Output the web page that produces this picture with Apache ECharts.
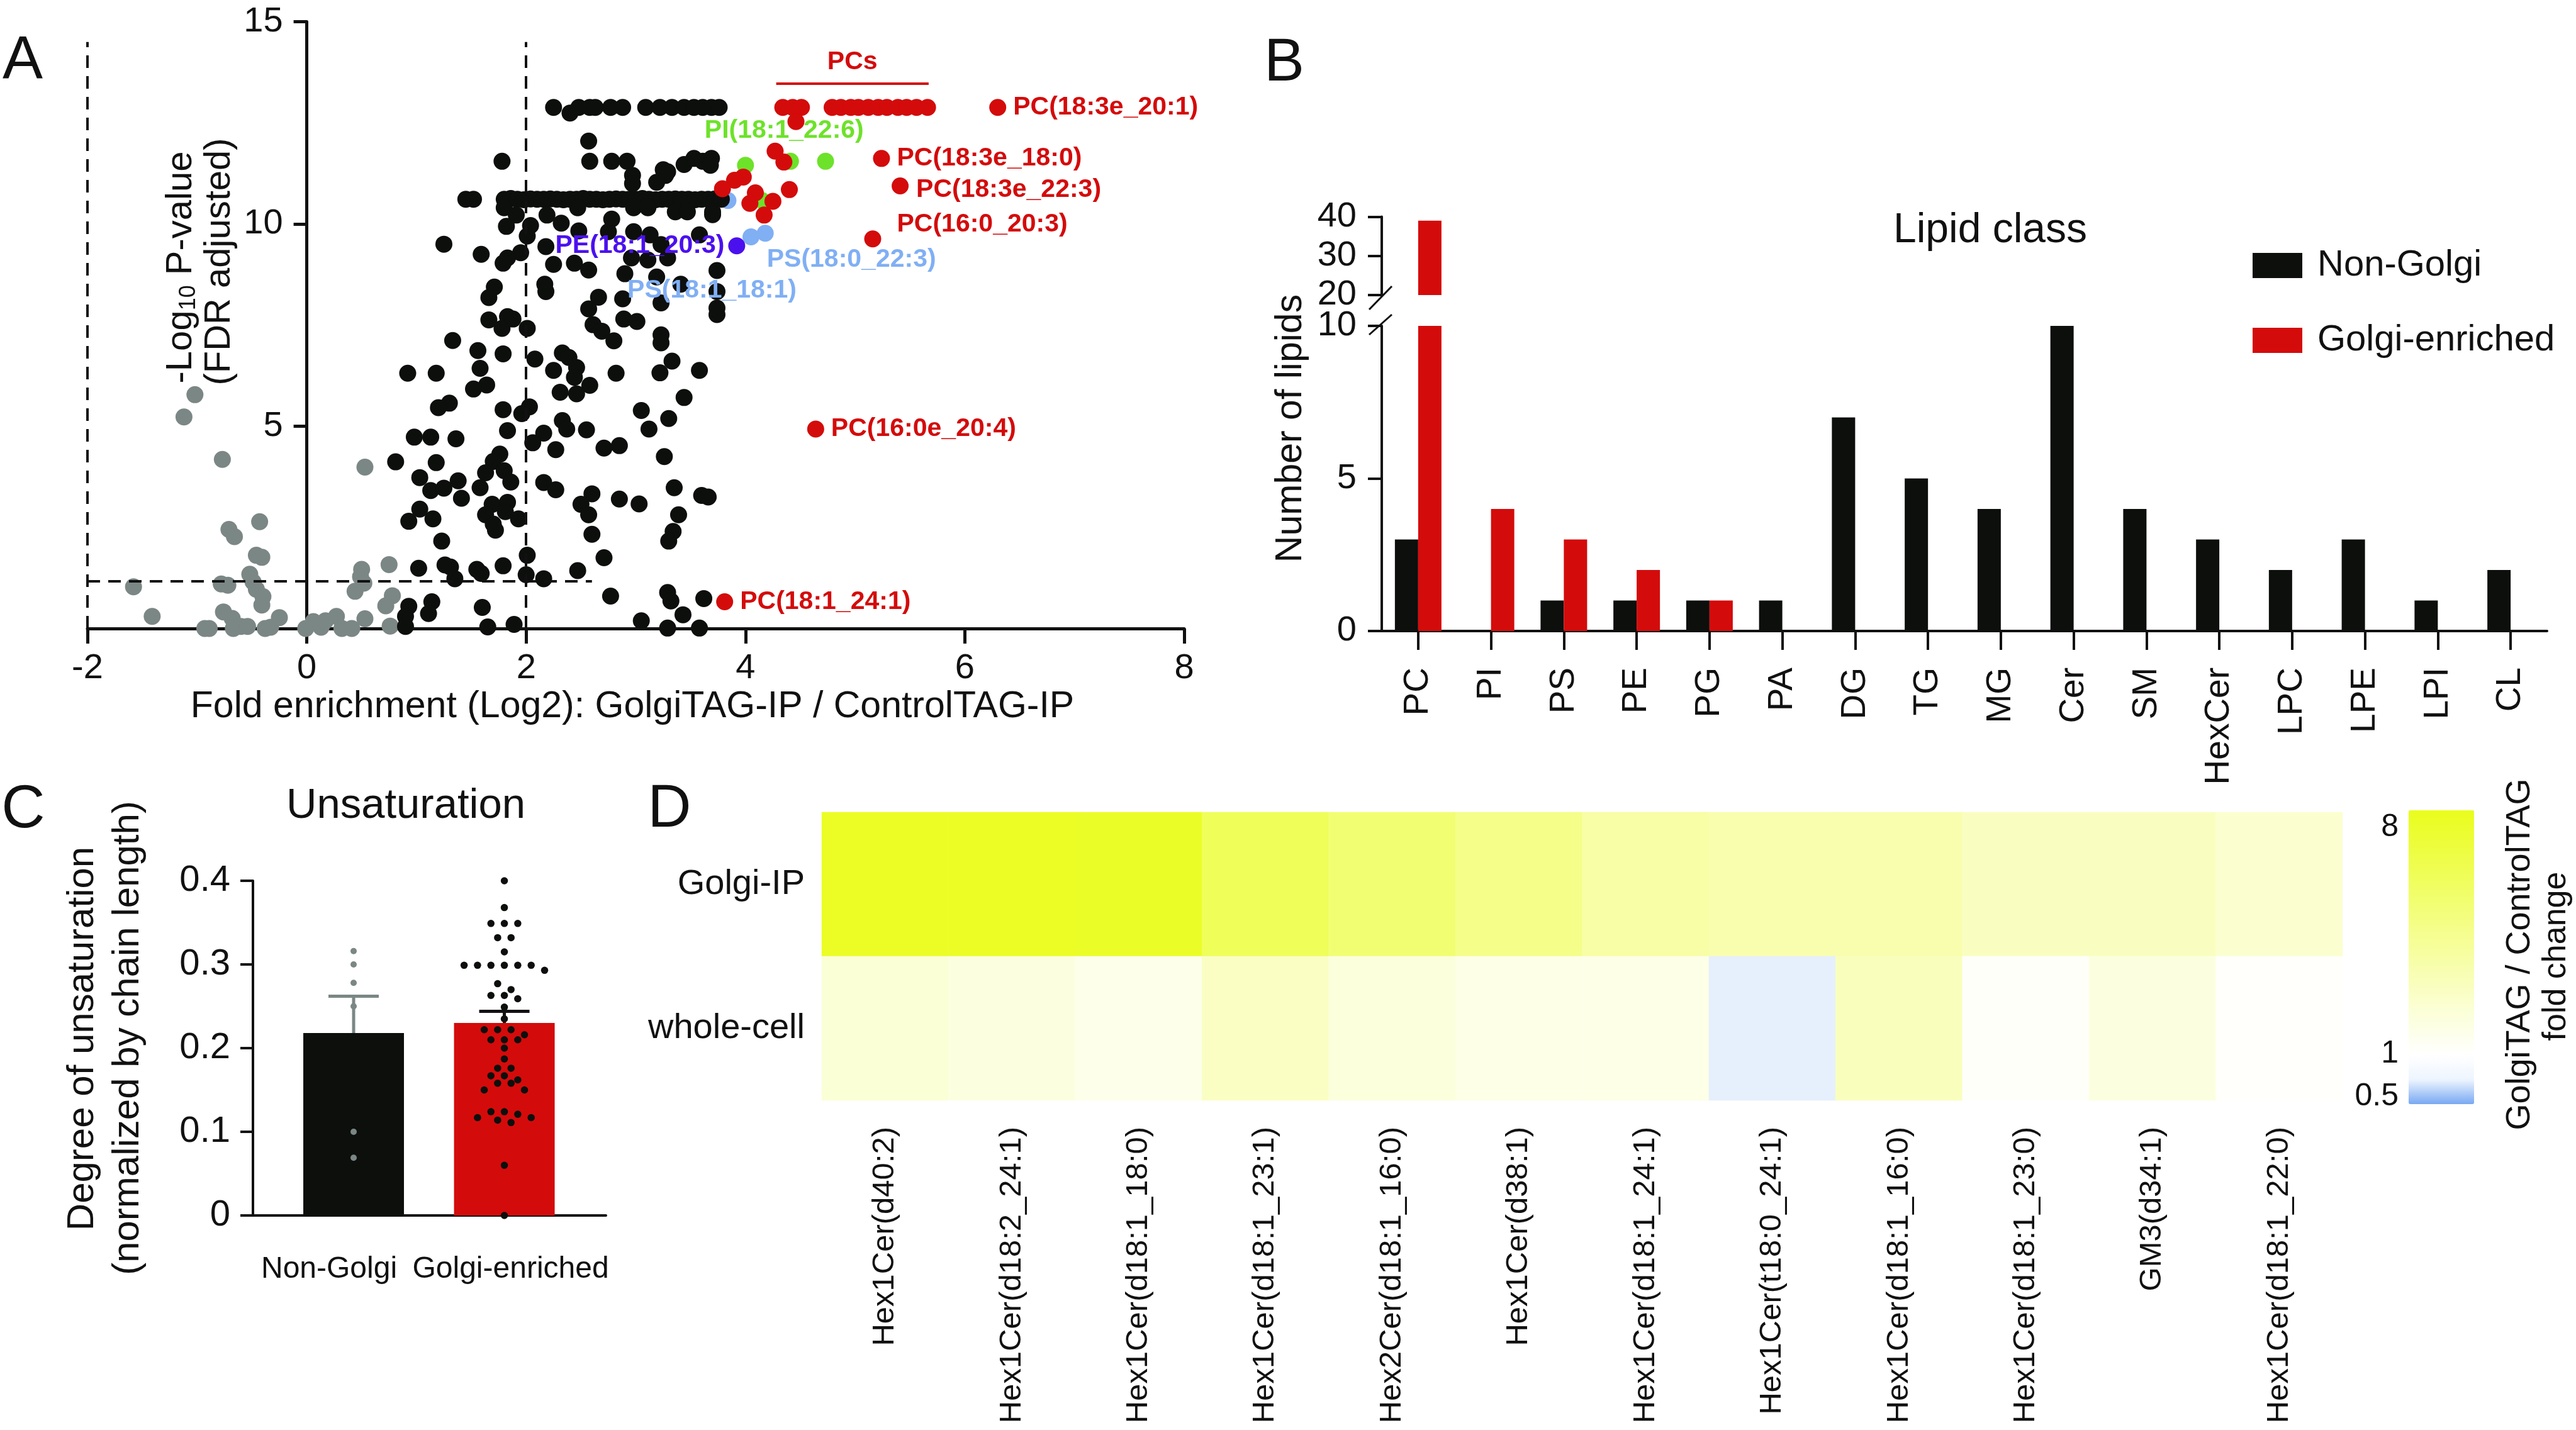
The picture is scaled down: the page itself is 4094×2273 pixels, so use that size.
<!DOCTYPE html>
<html>
<head>
<meta charset="utf-8">
<script src="https://cdn.jsdelivr.net/npm/echarts@6.0.0/dist/echarts.min.js"></script>
<style>
html, body { margin: 0; padding: 0; background: #fff; }
#fig { width: 4094px; height: 2273px; }
</style>
</head>
<body>
<div id="fig"></div>
<script>
// ---------- A: volcano plot (log2 fold, -log10 FDR) ----------
const volcanoNotSig = [
    [-1.02, 5.78], [-1.12, 5.23], [-0.77, 4.18], [0.53, 3.99], [-0.43, 2.64], [-0.71, 2.45], [-0.66, 2.27],
    [-0.46, 1.81], [-0.41, 1.76], [-0.52, 1.34], [-0.49, 1.15], [-0.46, 0.97], [-0.40, 0.79], [-0.41, 0.58],
    [-0.78, 1.10], [-0.72, 1.07], [-1.58, 1.03], [-1.41, 0.30], [-0.76, 0.41], [-0.68, 0.25], [-0.93, 0.00],
    [-0.89, 0.00], [-0.67, 0.00], [-0.60, 0.05], [-0.54, 0.05], [-0.38, 0.00], [-0.33, 0.03], [-0.25, 0.27],
    [-0.01, 0.00], [0.06, 0.17], [0.13, 0.03], [0.17, 0.19], [0.27, 0.30], [0.32, 0.00], [0.41, 0.00],
    [0.53, 0.24], [0.50, 1.46], [0.49, 1.28], [0.52, 1.12], [0.44, 0.92], [0.75, 1.58], [0.78, 0.81],
    [0.72, 0.56], [0.76, 0.06]
];
const volcanoOther = [
    [2.25, 12.88], [2.40, 12.74], [2.48, 12.88], [2.58, 12.88], [2.63, 12.88], [2.77, 12.88], [2.88, 12.88],
    [3.09, 12.88], [3.22, 12.88], [3.33, 12.88], [3.44, 12.88], [3.53, 12.88], [3.61, 12.88], [3.69, 12.88],
    [3.76, 12.88], [2.57, 12.05],
    [1.78, 11.55], [2.58, 11.55], [2.78, 11.55], [2.92, 11.55], [3.44, 11.47], [3.53, 11.62], [3.61, 11.55],
    [3.69, 11.62], [3.68, 11.45], [2.97, 11.20], [3.27, 11.20], [2.97, 11.00], [3.25, 11.34], [3.19, 11.03],
    [3.29, 11.29],
    [1.45, 10.61], [1.52, 10.61], [1.80, 10.61], [1.86, 10.63], [1.92, 10.61], [1.98, 10.60], [2.04, 10.62],
    [2.10, 10.61], [2.16, 10.61], [2.22, 10.62], [2.28, 10.61], [2.34, 10.60], [2.40, 10.61], [2.46, 10.61],
    [2.52, 10.63], [2.58, 10.61], [2.64, 10.61], [2.70, 10.60], [2.76, 10.61], [2.82, 10.62], [2.88, 10.61],
    [2.94, 10.61], [3.00, 10.61], [3.06, 10.63], [3.12, 10.61], [3.18, 10.60], [3.24, 10.61], [3.30, 10.61],
    [3.36, 10.62], [3.42, 10.61], [3.48, 10.61], [3.54, 10.60], [3.60, 10.61], [3.66, 10.61], [3.72, 10.62],
    [3.78, 10.61],
    [1.80, 10.40], [2.47, 10.40], [2.98, 10.40], [3.11, 10.40], [3.36, 10.30], [3.47, 10.30], [3.70, 10.30],
    [1.91, 10.22], [2.19, 10.22], [1.82, 9.94], [2.04, 9.96], [2.32, 10.02], [2.48, 9.83], [2.78, 10.12],
    [2.75, 9.81], [2.98, 9.81], [3.13, 9.73], [2.01, 9.70], [1.25, 9.50], [2.18, 9.44], [1.59, 9.25],
    [1.95, 9.29], [1.83, 9.16], [1.79, 9.03], [2.25, 9.00], [2.44, 9.03], [2.57, 8.86], [2.96, 9.16],
    [2.90, 8.77], [3.11, 9.11], [1.71, 8.44], [1.66, 8.18], [2.17, 8.51], [2.18, 8.33], [2.66, 8.19],
    [2.88, 8.15], [3.19, 8.69], [3.23, 8.05], [1.83, 7.71], [2.57, 7.90],
    [3.58, 9.73], [3.29, 9.16], [3.74, 8.85], [3.41, 8.51], [3.74, 8.33], [3.74, 7.92], [3.70, 10.23], [3.23, 9.49],
    [0.92, 6.31], [1.18, 6.31], [1.33, 7.12], [1.56, 6.87], [1.79, 6.79], [1.58, 6.43], [1.64, 6.02],
    [1.52, 5.92], [1.30, 5.57], [1.20, 5.46], [1.66, 7.63], [1.78, 7.42], [2.01, 7.42], [1.88, 7.65],
    [2.08, 6.66], [2.33, 6.81], [2.39, 6.70], [2.46, 6.45], [2.25, 6.38], [2.44, 6.21], [2.58, 6.01],
    [2.31, 5.84], [2.46, 5.80], [2.61, 7.51], [2.69, 7.35], [2.80, 7.11], [2.89, 7.65], [3.01, 7.59],
    [3.23, 7.26], [3.23, 7.06], [3.33, 6.61], [2.82, 6.31], [3.22, 6.32], [3.58, 6.38], [3.44, 5.71],
    [1.79, 5.41], [1.96, 5.31], [2.03, 5.48], [1.83, 4.89], [0.98, 4.73], [1.13, 4.73], [1.36, 4.69],
    [2.16, 4.83], [2.06, 4.59], [2.27, 4.42], [2.33, 5.14], [2.37, 4.93], [2.55, 4.91], [3.05, 5.39],
    [3.30, 5.19], [3.12, 4.93], [2.71, 4.46], [2.85, 4.52], [3.26, 4.25], [1.18, 4.10], [1.76, 4.31],
    [1.70, 4.13], [1.80, 3.90], [1.63, 3.85], [1.86, 3.62], [1.58, 3.48], [1.03, 3.73], [1.13, 3.41],
    [1.25, 3.47], [1.38, 3.65], [1.41, 3.22], [1.03, 2.95], [1.15, 2.71], [0.93, 2.65], [1.69, 3.07],
    [1.83, 3.12], [1.81, 2.89], [1.63, 2.81], [1.70, 2.58], [1.72, 2.43], [1.93, 2.71], [2.16, 3.61],
    [2.27, 3.43], [2.60, 3.33], [2.50, 3.07], [2.57, 2.81], [2.60, 2.33], [2.85, 3.20], [3.03, 3.08],
    [3.35, 3.48], [3.60, 3.29], [3.66, 3.25], [3.39, 2.81], [3.34, 2.40], [3.30, 2.16], [2.71, 1.75],
    [1.23, 2.16], [2.01, 1.81], [1.02, 1.49], [1.26, 1.57], [1.31, 1.52], [1.35, 1.23], [1.55, 1.46],
    [1.59, 1.36], [1.79, 1.55], [2.00, 1.33], [2.16, 1.23], [2.47, 1.43], [2.77, 0.80], [1.14, 0.66],
    [1.11, 0.37], [0.93, 0.55], [1.60, 0.52], [1.65, 0.04], [1.89, 0.10], [3.05, 0.19], [3.29, 0.89],
    [3.32, 0.68], [3.43, 0.34], [3.29, 0.01], [3.58, 0.01], [3.62, 0.74], [3.74, 7.76], [0.81, 4.12],
    [0.90, 0.30], [0.90, 0.05]
];
const volcanoPC = [
    [4.34, 12.88], [4.43, 12.88], [4.51, 12.88], [4.79, 12.88], [4.87, 12.88], [4.96, 12.88], [5.03, 12.88],
    [5.12, 12.88], [5.21, 12.88], [5.29, 12.88], [5.39, 12.88], [5.47, 12.88], [5.56, 12.88], [5.66, 12.88],
    [4.46, 12.53], [4.27, 11.80], [4.35, 11.53], [4.40, 10.85], [3.98, 11.16], [3.90, 11.08], [3.79, 10.87],
    [4.09, 10.77], [4.04, 10.51], [4.25, 10.56], [4.17, 10.22]
];
const volcanoPCNamed = [
    ['PC(18:3e_20:1)', 6.30, 12.88], ['PC(18:3e_18:0)', 5.24, 11.62], ['PC(18:3e_22:3)', 5.41, 10.94],
    ['PC(16:0_20:3)', 5.16, 9.63], ['PC(16:0e_20:4)', 4.64, 4.93], ['PC(18:1_24:1)', 3.81, 0.66]
];
const volcanoPI = [[4.00, 11.45], [4.73, 11.55], [4.15, 10.58]];
const volcanoPINamed = [['PI(18:1_22:6)', 4.41, 11.55]];
const volcanoPS = [[3.84, 10.58]];
const volcanoPSNamed = [['PS(18:1_18:1)', 4.05, 9.68], ['PS(18:0_22:3)', 4.18, 9.77]];
const volcanoPENamed = [['PE(18:1_20:3)', 3.92, 9.46]];
const pcsBar = [4.28, 5.67, 13.47];   // x from, x to, y of the "PCs" bracket
const fdrCut = 1.17;
const foldCut = [-2, 2];

// ---------- B: lipid class counts ----------
const lipidClasses = ['PC', 'PI', 'PS', 'PE', 'PG', 'PA', 'DG', 'TG', 'MG', 'Cer', 'SM', 'HexCer', 'LPC', 'LPE', 'LPI', 'CL'];
const nonGolgiCounts = [3, 0, 1, 1, 1, 1, 7, 5, 4, 10, 4, 3, 2, 3, 1, 2];
const golgiCounts = [39, 4, 3, 2, 1, 0, 0, 0, 0, 0, 0, 0, 0, 0, 0, 0];

// ---------- C: unsaturation ----------
const unsatGroups = ['Non-Golgi', 'Golgi-enriched'];
const unsatMean = [0.218, 0.230];
const unsatSem = [0.044, 0.014];
const nonGolgiUnsat = [0.316, 0.300, 0.278, 0.250, 0.100, 0.069];
const golgiUnsat = [
    0.400, 0.368, 0.349, 0.349, 0.349, 0.332, 0.332, 0.315, 0.299, 0.299, 0.299, 0.299, 0.299, 0.299,
    0.293, 0.277, 0.270, 0.263, 0.263, 0.259, 0.249, 0.235, 0.222, 0.222, 0.222, 0.216, 0.210, 0.210,
    0.210, 0.200, 0.187, 0.176, 0.176, 0.167, 0.167, 0.162, 0.158, 0.158, 0.150, 0.150, 0.124, 0.124,
    0.121, 0.117, 0.117, 0.114, 0.111, 0.060, 0.000
];

// ---------- D: HexCer heatmap (fold change) ----------
const hexLipids = ['Hex1Cer(d40:2)', 'Hex1Cer(d18:2_24:1)', 'Hex1Cer(d18:1_18:0)', 'Hex1Cer(d18:1_23:1)',
    'Hex2Cer(d18:1_16:0)', 'Hex1Cer(d38:1)', 'Hex1Cer(d18:1_24:1)', 'Hex1Cer(t18:0_24:1)',
    'Hex1Cer(d18:1_16:0)', 'Hex1Cer(d18:1_23:0)', 'GM3(d34:1)', 'Hex1Cer(d18:1_22:0)'];
const heatRows = ['whole-cell', 'Golgi-IP'];
const golgiIpFold = [8.6, 8.6, 8.5, 5.1, 4.0, 3.2, 2.4, 2.2, 2.2, 1.85, 1.85, 1.6];
const wholeCellFold = [1.5, 1.36, 1.2, 1.8, 1.4, 1.25, 1.25, 0.64, 1.9, 1.04, 1.36, 1.03];
const colorbarTicks = [8, 1, 0.5];

// ---------- styles ----------
const FONT = 'Liberation Sans';
const INK = '#111111';
const BLACK = '#0d0f0d';
const GRAY = '#7b8785';
const RED = '#d40b0b';
const GREEN = '#6de22a';
const LBLUE = '#80aff4';
const PURPLE = '#4b10ee';
const DOT = 27;
const A_LEFT = 139, A_UNIT = 174.3;  // px per log2 unit on panel A

// colorbar: position of a fold change on the bar (0 bottom .. 1 top)
function barPos(fc) {
    const l = Math.log2(fc);
    return l >= 0 ? 0.171 + l * 0.257 : 0.171 + l * 0.145;
}
function mix(a, b, t) {
    const pa = [1, 3, 5].map(i => parseInt(a.substr(i, 2), 16));
    const pb = [1, 3, 5].map(i => parseInt(b.substr(i, 2), 16));
    return 'rgb(' + pa.map((v, i) => Math.round(v + (pb[i] - v) * t)).join(',') + ')';
}
const cbarColors = ['#78a9f3', '#eef5fe', '#ffffff'].concat(
    Array.from({ length: 10 }, (_, k) => mix('#ffffff', '#eafd1c', (k + 1) / 10)));
const CBAR = { left: 3828, top: 1288, w: 104, h: 467 };

const labelPlace = {
    'PC(18:3e_20:1)': { position: 'right', distance: 11 },
    'PC(18:3e_18:0)': { position: 'right', distance: 11 },
    'PC(18:3e_22:3)': { position: 'right', distance: 12, offset: [0, 6] },
    'PC(16:0_20:3)': { position: 'right', distance: 25, offset: [0, -23] },
    'PC(16:0e_20:4)': { position: 'right', distance: 11 },
    'PC(18:1_24:1)': { position: 'right', distance: 11 },
    'PI(18:1_22:6)': { position: 'inside', offset: [-10, -49] },
    'PS(18:1_18:1)': { position: 'inside', offset: [-62, 85] },
    'PS(18:0_22:3)': { position: 'inside', offset: [137, 42] },
    'PE(18:1_20:3)': { position: 'left', distance: 6 }
};
function named(list, color) {
    return list.map(([name, x, y]) => ({
        name: name,
        value: [x, y],
        label: Object.assign({
            show: true, formatter: '{b}', color: color, fontSize: 41,
            fontWeight: 'bold', fontFamily: FONT
        }, labelPlace[name])
    }));
}
function volcano(data, color) {
    return {
        type: 'scatter', xAxisIndex: 0, yAxisIndex: 0, symbolSize: DOT,
        itemStyle: { color: color, opacity: 1 }, emphasis: { disabled: true }, data: data
    };
}

// simple swarm layout for the dot plot in C
function swarm(values, center, step, tol) {
    const sorted = values.slice().sort((a, b) => b - a);
    const rows = [];
    sorted.forEach(v => {
        const row = rows[rows.length - 1];
        if (row && row[0] - v < tol) row.push(v); else rows.push([v]);
    });
    const out = [];
    rows.forEach(row => {
        const n = row.length;
        const slots = [];
        if (n % 2) { slots.push(0); for (let k = 1; slots.length < n; k++) { slots.push(-k, k); } }
        else { for (let k = 0.5; slots.length < n; k++) { slots.push(-k, k); } }
        row.forEach((v, i) => out.push([center + slots[i] * step, v]));
    });
    return out;
}

const heatData = [];
hexLipids.forEach((_, i) => {
    heatData.push([i, 1, barPos(golgiIpFold[i]), golgiIpFold[i]]);
    heatData.push([i, 0, barPos(wholeCellFold[i]), wholeCellFold[i]]);
});

function txt(text, x, y, size, opts) {
    opts = opts || {};
    const st = {
        text: text, fontSize: size, fontFamily: FONT, fontWeight: opts.weight || 'normal',
        fill: opts.color || INK, textAlign: opts.align || 'center', textVerticalAlign: 'middle',
        align: opts.align || 'center', verticalAlign: 'middle'
    };
    if (opts.rich) st.rich = opts.rich;
    return { type: 'text', x: x, y: y, rotation: opts.rot || 0, silent: true, z: 100, style: st };
}
const ROT = Math.PI / 2;

const axisLine = (w) => ({ show: true, onZero: false, lineStyle: { color: INK, width: w } });
const tick = (len, w) => ({ show: true, length: len, lineStyle: { color: INK, width: w } });
const lbl = (size, margin) => ({ fontSize: size, fontFamily: FONT, color: INK, margin: margin });

const myChart = echarts.init(document.getElementById('fig'));

const option = {
    animation: false,
    backgroundColor: '#ffffff',
    textStyle: { fontFamily: FONT },
    grid: [
        { left: A_LEFT, top: 34.5, width: 1743, height: 964.5, outerBoundsMode: 'none' },  // A
        { left: 2196, top: 518, width: 1852, height: 485, outerBoundsMode: 'none' },       // B lower
        { left: 2196, top: 344.5, width: 1852, height: 124.5, outerBoundsMode: 'none' },   // B upper
        { left: 402, top: 1400, width: 561, height: 532, outerBoundsMode: 'none' },        // C
        { left: 1306, top: 1291, width: 2417, height: 458, outerBoundsMode: 'none' }       // D
    ],
    xAxis: [
        {
            type: 'value', gridIndex: 0, min: -2, max: 8, interval: 2,
            axisLine: axisLine(5), axisTick: tick(24, 5), splitLine: { show: false },
            axisLabel: lbl(56, 36)
        },
        {
            type: 'category', gridIndex: 1, data: lipidClasses, boundaryGap: true,
            axisLine: axisLine(4), axisTick: Object.assign(tick(30, 4), { alignWithLabel: true }),
            axisLabel: Object.assign(lbl(55, 58), { rotate: 90, interval: 0 })
        },
        { type: 'category', gridIndex: 2, data: lipidClasses, show: false },
        {
            type: 'value', gridIndex: 3, min: -0.668, max: 1.674,
            axisLine: axisLine(4),
            axisTick: { show: false }, splitLine: { show: false },
            axisLabel: Object.assign(lbl(48, 62), {
                customValues: [0, 1],
                formatter: v => (v < 0.5 ? '{a|' + unsatGroups[0] + '}' : '{b|' + unsatGroups[1] + '}'),
                rich: {
                    a: { fontSize: 48, fontFamily: FONT, color: INK, padding: [0, 78, 0, 0] },
                    b: { fontSize: 48, fontFamily: FONT, color: INK, padding: [0, 0, 0, 20] }
                }
            })
        },
        {
            type: 'category', gridIndex: 4, data: hexLipids,
            axisLine: { show: false }, axisTick: { show: false }, splitLine: { show: false },
            axisLabel: Object.assign(lbl(49, 42), { rotate: 90, interval: 0 })
        }
    ],
    yAxis: [
        {
            // the y axis sits on x = 0 of panel A
            type: 'value', gridIndex: 0, min: 0, max: 15, interval: 5,
            offset: -(0 - (-2)) * A_UNIT,
            axisLine: axisLine(5), axisTick: tick(21, 5), splitLine: { show: false },
            axisLabel: Object.assign(lbl(56, 38), { showMinLabel: false })
        },
        {
            type: 'value', gridIndex: 1, min: 0, max: 10, interval: 5,
            axisLine: axisLine(4), axisTick: tick(22, 4), splitLine: { show: false },
            axisLabel: lbl(56, 40)
        },
        {
            type: 'value', gridIndex: 2, min: 20, max: 40, interval: 10,
            axisLine: axisLine(4), axisTick: tick(22, 4), splitLine: { show: false },
            axisLabel: lbl(56, 40)
        },
        {
            type: 'value', gridIndex: 3, min: 0, max: 0.4, interval: 0.1,
            axisLine: axisLine(4), axisTick: tick(20, 4), splitLine: { show: false },
            axisLabel: lbl(58, 36)
        },
        {
            type: 'category', gridIndex: 4, data: heatRows,
            axisLine: { show: false }, axisTick: { show: false }, splitLine: { show: false },
            axisLabel: lbl(56, 27)
        }
    ],
    legend: {
        data: ['Non-Golgi', 'Golgi-enriched'], orient: 'vertical', left: 3580, top: 393,
        itemWidth: 79, itemHeight: 40, itemGap: 61, icon: 'rect', padding: 0, selectedMode: false,
        textStyle: { fontSize: 58, fontFamily: FONT, color: INK, padding: [0, 0, 0, 19] }
    },
    visualMap: {
        type: 'continuous', seriesIndex: 15, dimension: 2, min: 0, max: 1,
        calculable: false, hoverLink: false, orient: 'vertical',
        left: CBAR.left, top: CBAR.top, itemWidth: CBAR.w, itemHeight: CBAR.h, padding: 0,
        inRange: { color: cbarColors }
    },
    series: [
        // 0 gray (not significant) with threshold lines
        Object.assign(volcano(volcanoNotSig, GRAY), {
            markLine: {
                silent: true, symbol: 'none', label: { show: false },
                lineStyle: { color: INK, width: 4, type: [20, 13] },
                data: [
                    [{ coord: [foldCut[0], 0] }, { coord: [foldCut[0], 14.5] }],
                    [{ coord: [foldCut[1], 0] }, { coord: [foldCut[1], 14.5] }],
                    [{ coord: [foldCut[0], fdrCut] }, { coord: [2.6, fdrCut] }]
                ]
            }
        }),
        // 1 PS
        volcano(volcanoPS.concat(named(volcanoPSNamed, LBLUE)), LBLUE),
        // 2 other lipids
        volcano(volcanoOther, BLACK),
        // 3 PI
        volcano(volcanoPI.concat(named(volcanoPINamed, GREEN)), GREEN),
        // 4 PC
        Object.assign(volcano(volcanoPC.concat(named(volcanoPCNamed, RED)), RED), {
            markLine: {
                silent: true, symbol: 'none',
                lineStyle: { color: RED, width: 4, type: 'solid' },
                label: {
                    show: true, formatter: 'PCs', position: 'insideMiddleTop', distance: 14,
                    color: RED, fontSize: 41, fontWeight: 'bold', fontFamily: FONT
                },
                data: [[{ coord: [pcsBar[0], pcsBar[2]] }, { coord: [pcsBar[1], pcsBar[2]] }]]
            }
        }),
        // 5 PE
        volcano(named(volcanoPENamed, PURPLE), PURPLE),
        // 6-9 B bars
        {
            name: 'Non-Golgi', type: 'bar', xAxisIndex: 1, yAxisIndex: 1, data: nonGolgiCounts,
            barWidth: 37, barGap: '0%', itemStyle: { color: BLACK }, emphasis: { disabled: true }
        },
        {
            name: 'Golgi-enriched', type: 'bar', xAxisIndex: 1, yAxisIndex: 1, data: golgiCounts,
            barWidth: 37, barGap: '0%', itemStyle: { color: RED }, emphasis: { disabled: true }
        },
        {
            name: 'Non-Golgi', type: 'bar', xAxisIndex: 2, yAxisIndex: 2,
            data: nonGolgiCounts.map(v => (v > 10 ? v : '-')),
            barWidth: 37, barGap: '0%', itemStyle: { color: BLACK }, emphasis: { disabled: true }
        },
        {
            name: 'Golgi-enriched', type: 'bar', xAxisIndex: 2, yAxisIndex: 2,
            data: golgiCounts.map(v => (v > 10 ? v : '-')),
            barWidth: 37, barGap: '0%', itemStyle: { color: RED }, emphasis: { disabled: true }
        },
        // 10 C bars
        {
            name: 'mean', type: 'bar', xAxisIndex: 3, yAxisIndex: 3, barWidth: 160,
            emphasis: { disabled: true },
            data: [
                { value: [0, unsatMean[0]], itemStyle: { color: BLACK } },
                { value: [1, unsatMean[1]], itemStyle: { color: RED } }
            ]
        },
        // 11 C error bars
        {
            name: 'sem', type: 'custom', xAxisIndex: 3, yAxisIndex: 3,
            encode: { x: 0, y: [1, 2] }, silent: true,
            data: unsatMean.map((m, i) => [i, m, unsatSem[i]]),
            renderItem: function (params, api) {
                const x = api.value(0), m = api.value(1), e = api.value(2);
                const p0 = api.coord([x, m]);
                const p1 = api.coord([x, m + e]);
                const color = params.dataIndex === 0 ? GRAY : INK;
                const st = { stroke: color, lineWidth: 5 };
                return {
                    type: 'group', children: [
                        { type: 'line', shape: { x1: p0[0], y1: p0[1], x2: p1[0], y2: p1[1] }, style: st },
                        { type: 'line', shape: { x1: p1[0] - 40, y1: p1[1], x2: p1[0] + 40, y2: p1[1] }, style: st }
                    ]
                };
            }
        },
        // 12 C dots non-golgi
        {
            name: 'ng-dots', type: 'scatter', xAxisIndex: 3, yAxisIndex: 3, symbolSize: 10,
            itemStyle: { color: GRAY, opacity: 1 }, emphasis: { disabled: true },
            data: swarm(nonGolgiUnsat, 0, 0.089, 0.0085)
        },
        // 13 C dots golgi-enriched
        {
            name: 'g-dots', type: 'scatter', xAxisIndex: 3, yAxisIndex: 3, symbolSize: 11.5,
            itemStyle: { color: BLACK, opacity: 1 }, emphasis: { disabled: true },
            data: swarm(golgiUnsat, 1, 0.089, 0.0085)
        },
        // 14 placeholder to keep heatmap index stable
        { type: 'scatter', xAxisIndex: 3, yAxisIndex: 3, data: [], silent: true },
        // 15 D heatmap
        {
            name: 'fold', type: 'heatmap', xAxisIndex: 4, yAxisIndex: 4, data: heatData,
            encode: { x: 0, y: 1, value: 2 }, emphasis: { disabled: true }, label: { show: false }
        }
    ],
    graphic: [
        txt('A', 36, 98, 96),
        txt('B', 2041, 102, 96),
        txt('C', 37, 1289, 96),
        txt('D', 1064, 1288, 96),
        txt('Fold enrichment (Log2): GolgiTAG-IP / ControlTAG-IP', 1005, 1124, 59),
        txt('-Log{s|10} P-value', 288, 425, 58, {
            rot: ROT,
            rich: { s: { fontSize: 36, fontFamily: FONT, fill: INK, padding: [24, 0, 0, 0] } }
        }),
        txt('(FDR adjusted)', 349, 416, 58, { rot: ROT }),
        txt('Lipid class', 3163, 367, 66),
        txt('Number of lipids', 2052, 681, 59, { rot: ROT }),
        { type: 'line', silent: true, z: 100, shape: { x1: 2176, y1: 492, x2: 2212, y2: 455 }, style: { stroke: INK, lineWidth: 3 } },
        { type: 'line', silent: true, z: 100, shape: { x1: 2176, y1: 532, x2: 2212, y2: 500 }, style: { stroke: INK, lineWidth: 3 } },
        txt('Unsaturation', 645, 1282, 67),
        txt('Degree of unsaturation', 131, 1651, 60, { rot: ROT }),
        txt('(normalized by chain length)', 203, 1650, 60, { rot: ROT }),
        txt('GolgiTAG / ControlTAG', 4005, 1517, 54, { rot: ROT }),
        txt('fold change', 4063, 1520, 52, { rot: ROT })
    ].concat(colorbarTicks.map(v =>
        txt(String(v), 3812, CBAR.top + (1 - barPos(v)) * CBAR.h, 50, { align: 'right' })))
};

myChart.setOption(option);
</script>
</body>
</html>
